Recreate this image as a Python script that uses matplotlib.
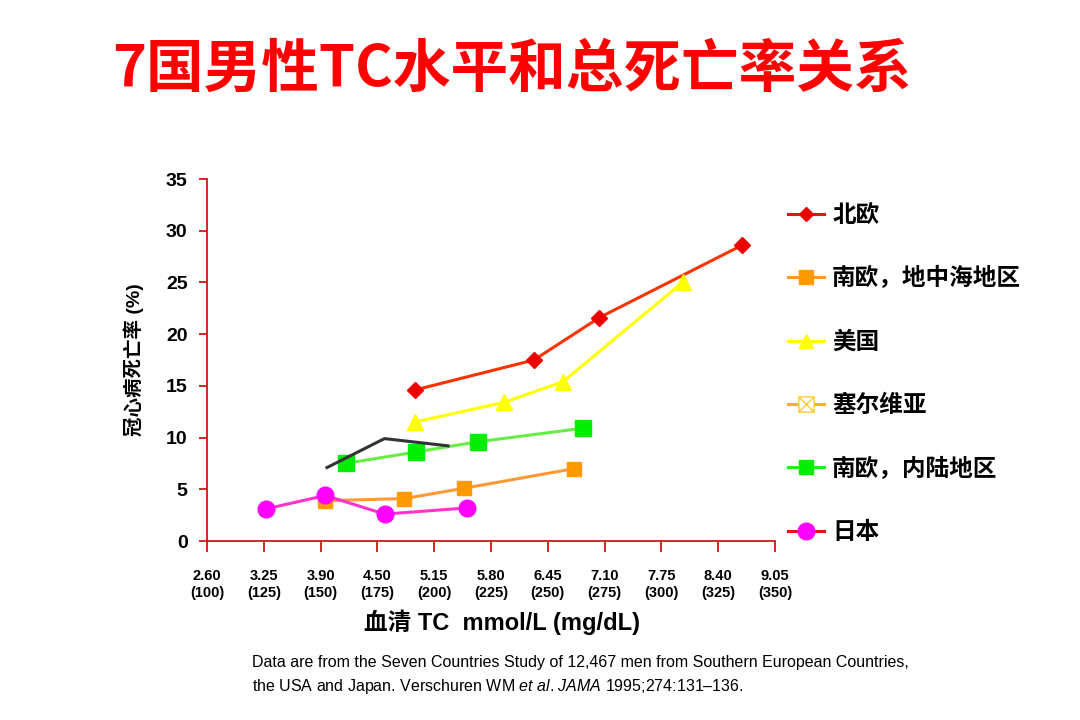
import matplotlib
matplotlib.use('Agg')
import matplotlib.pyplot as plt
from matplotlib.lines import Line2D
from matplotlib.path import Path

plt.rcParams['font.family'] = ['Liberation Sans', 'Noto Sans CJK SC', 'DejaVu Sans']
plt.rcParams['axes.unicode_minus'] = False
plt.rcParams['mathtext.fontset'] = 'custom'
plt.rcParams['mathtext.rm'] = 'Liberation Sans'
plt.rcParams['mathtext.it'] = 'Liberation Sans:italic'

# x values in mg/dL, y values in % CHD mortality
north_x = [191.5, 243.9, 272.7, 335.5]
north_y = [14.6, 17.5, 21.6, 28.6]

med_x = [152.1, 186.8, 213.2, 261.7]
med_y = [3.9, 4.1, 5.1, 7.0]

usa_x = [191.5, 230.7, 256.7, 309.3]
usa_y = [11.5, 13.4, 15.4, 25.0]

serbia_x = [152.8, 178.1, 206.1]
serbia_y = [7.1, 9.9, 9.2]

inland_x = [161.0, 191.8, 219.4, 265.4]
inland_y = [7.5, 8.6, 9.6, 10.9]

japan_x = [125.9, 152.1, 178.2, 214.6]
japan_y = [3.1, 4.4, 2.6, 3.2]

tick_mg = [100, 125, 150, 175, 200, 225, 250, 275, 300, 325, 350]
tick_mmol = ['2.60', '3.25', '3.90', '4.50', '5.15', '5.80', '6.45', '7.10', '7.75', '8.40', '9.05']
labels = ['北欧', '南欧，地中海地区', '美国', '塞尔维亚', '南欧，内陆地区', '日本']

AXIS_RED = '#d40000'

fig = plt.figure(figsize=(10.8, 7.2), dpi=100)
ax = fig.add_axes([207 / 1080, 1 - 541 / 720, (775 - 207) / 1080, (541 - 179) / 720])

ax.plot(north_x, north_y, color='#ff3300', lw=2.2, marker='D', ms=8,
        mfc='#ee0000', mec='#ee0000')
ax.plot(med_x, med_y, color='#ff9933', lw=2.2, marker='s', ms=10,
        mfc='#ff9900', mec='#ff9900')
ax.plot(usa_x, usa_y, color='#ffff00', lw=2.2, marker='^', ms=11,
        mfc='#ffff00', mec='#ffff00')
ax.plot(inland_x, inland_y, color='#66ee44', lw=2.2, marker='s', ms=11,
        mfc='#00ee00', mec='#00ee00')
ax.plot(serbia_x, serbia_y, color='#333333', lw=2.2)
ax.plot(japan_x, japan_y, color='#ff33cc', lw=2.2, marker='o', ms=12,
        mfc='#ff00ff', mec='#ff00ff')

ax.set_xlim(100, 350)
ax.set_ylim(0, 35)
ax.set_yticks(range(0, 36, 5))
ax.set_xticks(tick_mg)
ax.set_xticklabels([f'{a}\n({b})' for a, b in zip(tick_mmol, tick_mg)],
                   fontsize=10.5, fontweight='bold', linespacing=1.25)
for t in ax.get_yticklabels():
    t.set_fontsize(14)
    t.set_fontweight('bold')

for s in ['top', 'right']:
    ax.spines[s].set_visible(False)
for s in ['left', 'bottom']:
    ax.spines[s].set_color(AXIS_RED)
    ax.spines[s].set_linewidth(1.2)
ax.tick_params(axis='y', colors=AXIS_RED, length=6, width=1.2, labelcolor='black', pad=8)
ax.tick_params(axis='x', colors=AXIS_RED, length=8, width=1.2, labelcolor='black', pad=12)

ax.set_ylabel('冠心病死亡率 (%)', fontsize=14, fontweight='bold', labelpad=16)
ax.set_xlabel('血清 TC  mmol/L (mg/dL)', fontsize=17, fontweight='bold')
ax.xaxis.set_label_coords((502 - 207) / (775 - 207), -(622 - 541) / (541 - 179))
ax.xaxis.label.set_va('center')

# legend
boxx = Path([(-1, -1), (1, -1), (1, 1), (-1, 1), (-1, -1), (1, 1), (-1, 1), (1, -1)],
            [Path.MOVETO, Path.LINETO, Path.LINETO, Path.LINETO, Path.LINETO,
             Path.LINETO, Path.MOVETO, Path.LINETO])
handles = [
    Line2D([], [], color='#ee1111', lw=2.2, marker='D', ms=7, mfc='#ee0000', mec='#ee0000'),
    Line2D([], [], color='#ff9922', lw=2.2, marker='s', ms=10, mfc='#ff9900', mec='#ff9900'),
    Line2D([], [], color='#ffff00', lw=2.2, marker='^', ms=10, mfc='#ffff00', mec='#ffff00'),
    Line2D([], [], color='#ffb020', lw=2.2, marker=boxx, ms=11, mfc='white', mec='#ffcc33', mew=1),
    Line2D([], [], color='#22ee22', lw=2.2, marker='s', ms=10, mfc='#00ee00', mec='#00ee00'),
    Line2D([], [], color='#ee1111', lw=2.2, marker='o', ms=12, mfc='#ff00ff', mec='#ff00ff'),
]
fig.legend(handles, labels, loc='upper left', bbox_to_anchor=(788 / 1080, 1 - 203 / 720),
           frameon=False, borderpad=0, borderaxespad=0, handlelength=1.53,
           handletextpad=0.34, labelspacing=1.67,
           prop={'family': ['Noto Sans CJK SC'], 'size': 17, 'weight': 'bold'})

fig.text(512 / 1080, 1 - 70 / 720, '7国男性TC水平和总死亡率关系', color='#ff0000',
         fontsize=41.5, ha='center', va='center',
         family=['Noto Sans CJK SC'], fontweight='bold')

fig.text(252 / 1080, 1 - 663 / 720,
         'Data are from the Seven Countries Study of 12,467 men from Southern European Countries,',
         fontsize=11.5, va='center', ha='left')
fig.text(252 / 1080, 1 - 686 / 720,
         r'the USA and Japan. Verschuren WM $\it{et\ al}$. $\it{JAMA}$ 1995;274:131–136.',
         fontsize=11.5, va='center', ha='left')

fig.savefig('out.png', dpi=100, facecolor='white')
